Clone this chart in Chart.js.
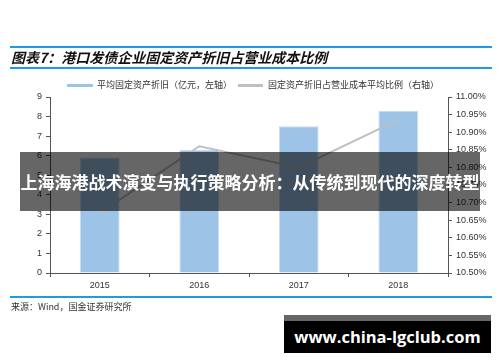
<!DOCTYPE html>
<html><head><meta charset="utf-8">
<script src="https://cdn.jsdelivr.net/npm/chart.js@4"></script>
<style>
html,body{margin:0;padding:0;background:#fff;}
#wrap{position:relative;width:500px;height:362px;overflow:hidden;font-family:"Noto Sans CJK SC","Noto Sans",sans-serif;}
#cv{position:absolute;left:0;top:0;}
.hl{position:absolute;left:10px;width:482px;height:2px;background:#1e9be6;}
#title{position:absolute;left:11px;top:48px;font-size:14px;font-weight:bold;font-style:italic;color:#111;line-height:19px;white-space:nowrap;}
#legend{position:absolute;top:78px;left:0;width:500px;height:14px;font-size:9px;color:#333;}
.sw{position:absolute;top:6px;height:3px;}
.lt{position:absolute;top:0;line-height:14px;white-space:nowrap;}
#src{position:absolute;left:11px;top:300px;font-size:9px;color:#333;line-height:14px;white-space:nowrap;}
#banner{position:absolute;left:20px;top:152px;width:460px;height:59px;background:rgba(0,0,0,0.6);color:#fff;font-weight:bold;font-size:17px;line-height:59px;text-align:center;white-space:nowrap;}
#wm{position:absolute;left:284px;top:315px;width:207px;height:32px;background:#000;border-top:6px solid #666;color:#fff;font-weight:bold;font-size:16.5px;line-height:32px;text-align:center;white-space:nowrap;font-family:"Open Sans","Noto Sans",sans-serif;}
</style></head><body>
<div id="wrap">
<canvas id="cv" width="500" height="362"></canvas>
<div class="hl" style="top:46px"></div>
<div id="title">图表7：港口发债企业固定资产折旧占营业成本比例</div>
<div class="hl" style="top:67px"></div>
<div id="legend">
  <div class="sw" style="left:67px;width:26px;background:#9dc3e6"></div>
  <div class="lt" id="lt1" style="left:97px"></div>
  <div class="sw" style="left:238px;width:25px;background:#bfbfbf"></div>
  <div class="lt" id="lt2" style="left:268px"></div>
</div>
<div class="hl" style="top:296px"></div>
<div id="src">来源：Wind，国金证券研究所</div>
<div id="banner">上海海港战术演变与执行策略分析：从传统到现代的深度转型</div>
<div id="wm">www.china-lgclub.com</div>
</div>
<script>
const categories = ['2015', '2016', '2017', '2018'];
const depreciation = [5.9, 6.3, 7.5, 8.3];
const ratio = [10.67, 10.86, 10.80, 10.935];
const leftTicks = [0, 1, 2, 3, 4, 5, 6, 7, 8, 9];
const rightTicks = [10.50, 10.55, 10.60, 10.65, 10.70, 10.75, 10.80, 10.85, 10.90, 10.95, 11.00];
const seriesNames = ['平均固定资产折旧（亿元，左轴）', '固定资产折旧占营业成本平均比例（右轴）'];

document.getElementById('lt1').textContent = seriesNames[0];
document.getElementById('lt2').textContent = seriesNames[1];

const axisColor = '#555';
const tickFont = {family: '"Liberation Sans", Arial, sans-serif', size: 9};

new Chart(document.getElementById('cv'), {
  data: {
    labels: categories,
    datasets: [
      {type: 'line', label: seriesNames[1], data: ratio, yAxisID: 'y1', borderColor: '#bfbfbf', borderWidth: 2, pointRadius: 0, tension: 0, order: 0},
      {type: 'bar', label: seriesNames[0], data: depreciation, yAxisID: 'y', backgroundColor: '#9dc3e6', borderColor: '#c9dcf0', borderWidth: 1, categoryPercentage: 0.8, barPercentage: 0.5, order: 1}
    ]
  },
  options: {
    responsive: false,
    animation: false,
    devicePixelRatio: 1,
    layout: {padding: {top: 97, left: 0, right: 0, bottom: 64}},
    plugins: {legend: {display: false}, tooltip: {enabled: false}},
    scales: {
      x: {
        offset: true,
        grid: {display: true, drawOnChartArea: false, offset: true, color: axisColor, tickLength: 4, tickWidth: 1},
        border: {display: true, color: axisColor, width: 1},
        ticks: {color: '#333', font: tickFont, padding: 3, maxRotation: 0},
        afterFit: s => { s.height = 25; }
      },
      y: {
        position: 'left', min: 0, max: 9,
        afterBuildTicks: s => { s.ticks = leftTicks.map(v => ({value: v})); },
        grid: {display: true, drawOnChartArea: false, color: axisColor, tickLength: 4},
        border: {display: true, color: axisColor, width: 1},
        ticks: {color: '#333', font: tickFont, padding: 4},
        afterFit: s => { s.width = 50; }
      },
      y1: {
        position: 'right', min: 10.5, max: 11.0,
        afterBuildTicks: s => { s.ticks = rightTicks.map(v => ({value: v})); },
        grid: {display: true, drawOnChartArea: false, color: axisColor, tickLength: 4},
        border: {display: true, color: axisColor, width: 1},
        ticks: {color: '#333', font: tickFont, padding: 4, callback: v => Number(v).toFixed(2) + '%'},
        afterFit: s => { s.width = 52; }
      }
    }
  }
});
</script>
</body></html>
